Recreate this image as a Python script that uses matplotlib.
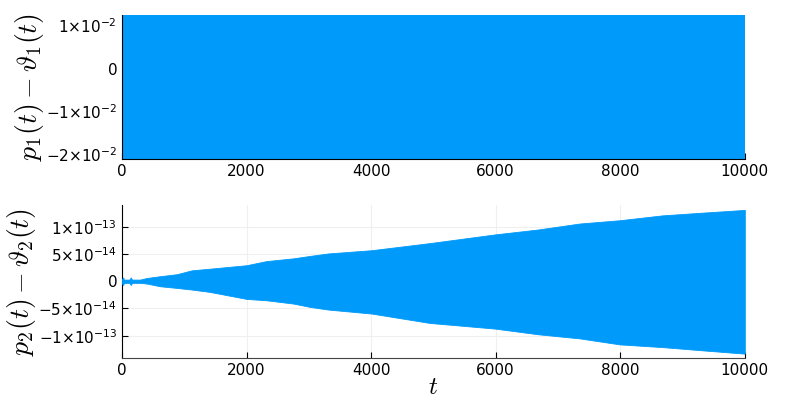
import numpy as np
import matplotlib
matplotlib.use("Agg")
import matplotlib.pyplot as plt

plt.rcParams["mathtext.fontset"] = "cm"
plt.rcParams["font.family"] = ["DejaVu Sans"]

blue = "#009AFA"

# top panel: p1 - theta1, band between constant extremes
t_top = [0, 10000]
top_upper = [0.01244, 0.01244]
top_lower = [-0.02103, -0.02103]
top_yticks = [-0.02, -0.01, 0.0, 0.01]
top_ylabels = [r"$\mathregular{-2{\times}10^{-2}}$", r"$\mathregular{-1{\times}10^{-2}}$",
               "0", r"$\mathregular{1{\times}10^{-2}}$"]

# bottom panel: p2 - theta2 envelope (units of 1e-14)
t_bot = [0, 20, 30, 120, 140, 160, 290, 400, 610, 880, 1120, 1410, 2000, 2320,
         2750, 3020, 3310, 4010, 4940, 5990, 6680, 7350, 7990, 8680, 9330, 10000]
bot_upper = [0.4, 0.7, 0.3, 0.3, 0.7, 0.3, 0.3, 0.6, 0.92, 1.29, 2.0, 2.3, 2.94, 3.7,
             4.2, 4.65, 5.1, 5.7, 7.0, 8.6, 9.5, 10.6, 11.2, 12.1, 12.6, 13.1]
bot_lower = [0.4, 0.7, 0.3, 0.3, 0.7, 0.3, 0.3, 0.43, 0.92, 1.23, 1.53, 1.96, 3.25, 3.5,
             4.1, 4.72, 5.2, 5.94, 7.66, 8.7, 9.74, 10.5, 11.6, 12.1, 12.7, 13.3]
bot_yticks = [-1e-13, -5e-14, 0.0, 5e-14, 1e-13]
bot_ylabels = [r"$\mathregular{-1{\times}10^{-13}}$", r"$\mathregular{-5{\times}10^{-14}}$",
               "0", r"$\mathregular{5{\times}10^{-14}}$", r"$\mathregular{1{\times}10^{-13}}$"]

xticks = [0, 2000, 4000, 6000, 8000, 10000]

fig = plt.figure(figsize=(8, 4), dpi=100)
ax1 = fig.add_axes([0.1525, 0.6025, 0.7785, 0.36])
ax2 = fig.add_axes([0.1525, 0.105, 0.7785, 0.3825])

ax1.fill_between(t_top, top_lower, top_upper, color=blue, lw=0)
ax1.set_ylim(top_lower[0], top_upper[0])
ax1.set_yticks(top_yticks)
ax1.set_yticklabels(top_ylabels)
ax1.set_ylabel(r"$p_1(t) - \vartheta_1(t)$", fontsize=20, labelpad=0)

tb = np.array(t_bot)
ax2.fill_between(tb, -np.array(bot_lower) * 1e-14, np.array(bot_upper) * 1e-14,
                 color=blue, lw=0.6, edgecolor=blue, zorder=3)
ax2.set_ylim(-1.41e-13, 1.40e-13)
ax2.set_yticks(bot_yticks)
ax2.set_yticklabels(bot_ylabels)
ax2.set_ylabel(r"$p_2(t) - \vartheta_2(t)$", fontsize=20, labelpad=0)
ax2.set_xlabel(r"$t$", fontsize=18, labelpad=-2)
ax2.grid(True, color="#efefef", lw=0.8, zorder=0)

for ax in (ax1, ax2):
    ax.set_xlim(0, 10000)
    ax.set_xticks(xticks)
    ax.spines["top"].set_visible(False)
    ax.spines["right"].set_visible(False)
    ax.tick_params(direction="in", labelsize=11, length=4, width=0.8)
    ax.set_axisbelow(True)
ax2.spines["bottom"].set_color("#444444")

fig.savefig("out.png", dpi=100)
